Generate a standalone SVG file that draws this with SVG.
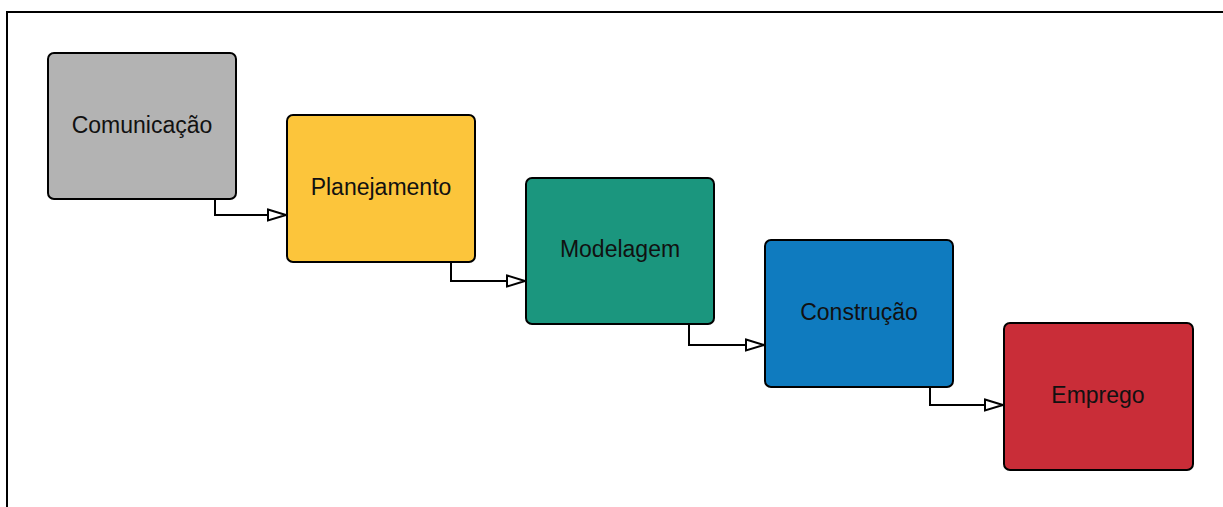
<svg xmlns="http://www.w3.org/2000/svg" width="1223" height="507" viewBox="0 0 1223 507">
<style>
.box{stroke:#000;stroke-width:2}
.lbl{font-family:"Liberation Sans",Arial,sans-serif;font-size:23px;fill:#111;text-anchor:middle;dominant-baseline:central}
.con{fill:none;stroke:#000;stroke-width:2}
</style>
<defs>
<marker id="arr" viewBox="0 0 20 14" refX="19" refY="7" markerWidth="20" markerHeight="14" markerUnits="userSpaceOnUse" orient="auto">
<path d="M1,1.5 L19,7 L1,12.5 Z" fill="#fff" stroke="#000" stroke-width="2"/>
</marker>
</defs>
<rect width="1223" height="507" fill="#fff"/>
<path d="M7,507 L7,12 L1223,12" fill="none" stroke="#000" stroke-width="2"/>
<g id="n1"><rect class="box" x="48" y="53" width="188" height="146" rx="6" fill="#b3b3b3"/><text class="lbl" x="142" y="125">Comunicação</text></g>
<g id="n2"><rect class="box" x="287" y="115" width="188" height="147" rx="6" fill="#fcc53b"/><text class="lbl" x="381" y="187">Planejamento</text></g>
<g id="n3"><rect class="box" x="526" y="178" width="188" height="146" rx="6" fill="#1b967e"/><text class="lbl" x="620" y="249">Modelagem</text></g>
<g id="n4"><rect class="box" x="765" y="240" width="188" height="147" rx="6" fill="#0f7bbf"/><text class="lbl" x="859" y="312">Construção</text></g>
<g id="n5"><rect class="box" x="1004" y="323" width="189" height="147" rx="6" fill="#c92d38"/><text class="lbl" x="1098" y="395">Emprego</text></g>
<g id="connectors">
<path class="con" d="M215,199 L215,215 L286,215" marker-end="url(#arr)"/>
<path class="con" d="M451,262 L451,281 L525,281" marker-end="url(#arr)"/>
<path class="con" d="M689,324 L689,345 L764,345" marker-end="url(#arr)"/>
<path class="con" d="M930,387 L930,405 L1003,405" marker-end="url(#arr)"/>
</g>
</svg>
